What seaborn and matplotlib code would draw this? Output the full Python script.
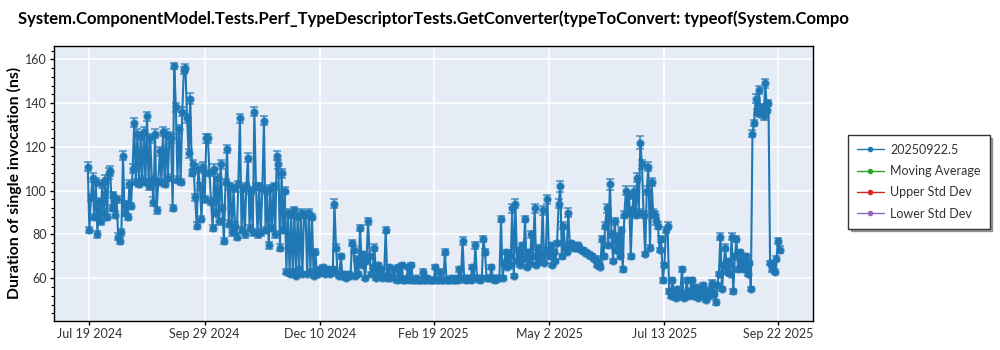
import matplotlib
matplotlib.use("Agg")
import matplotlib.pyplot as plt
from matplotlib.ticker import AutoMinorLocator
import pandas as pd
import seaborn as sns

# ---- data: one benchmark result per day, mean duration (ns) and its std error ----
title = ("System.ComponentModel.Tests.Perf_TypeDescriptorTests.GetConverter"
         "(typeToConvert: typeof(System.Compo")
y_label = "Duration of single invocation (ns)"
series_label = "20250922.5"
extra_labels = ["Moving Average", "Upper Std Dev", "Lower Std Dev"]

jul24 = [111, 82, 97, 106, 88, 104, 80, 95, 86, 103, 90, 105, 88, 108]
jul24_err = [2, 1.5, 1.5, 2, 1.5, 2, 1.5, 1.5, 1.5, 2, 1.5, 2, 1.5, 2.5]

aug24 = [109, 92, 98, 89, 96, 79, 77, 81, 116, 90, 94, 88, 103, 93, 110, 131,
         104, 126, 103, 125, 105, 127, 104, 134, 102, 124, 105, 95, 126, 91, 104]
aug24_err = [2.5, 1.5, 1.5, 1.5, 1.5, 1.5, 1.5, 1.5, 2, 1.5, 1.5, 1.5, 2, 1.5, 2, 2,
             1.5, 2, 1.5, 2, 1.5, 2, 1.5, 2, 1.5, 2, 1.5, 2, 2, 1.5, 1.5]

sep24 = [118, 104, 127, 103, 126, 106, 125, 124, 92, 157, 138, 105, 128, 104, 136,
         155, 156, 133, 117, 142, 108, 112, 97, 84, 110, 102, 87, 111, 96, 124]
sep24_err = [2, 1.5, 2, 1.5, 2, 1.5, 2, 2, 1.5, 1.5, 2, 1.5, 2, 1.5, 2,
             1.5, 2, 2, 2, 2.5, 1.5, 2, 1.5, 1.5, 2, 1.5, 1.5, 2, 1.5, 2]

oct24 = [124, 108, 95, 83, 110, 90, 106, 86, 112, 92, 77, 104, 119, 85, 102, 81,
         101, 84, 79, 103, 133, 82, 101, 80, 102, 115, 83, 100, 81, 136, 102]
oct24_err = [2, 1.5, 1.5, 1.5, 2, 1.5, 1.5, 1.5, 2, 1.5, 1.5, 1.5, 2, 1.5, 1.5, 1.5,
             1.5, 1.5, 1.5, 1.5, 2, 1.5, 1.5, 1.5, 1.5, 2, 1.5, 1.5, 1.5, 2, 1.5]

nov24 = [80, 102, 81, 101, 132, 82, 100, 75, 101, 83, 102, 80, 116, 112, 74, 108,
         82, 100, 63, 90, 62, 89, 63, 91, 61, 88, 64, 90, 62, 89]
nov24_err = [1.5, 1.5, 1.5, 1.5, 2, 1.5, 1.5, 1.5, 1.5, 1.5, 1.5, 1.5, 2, 2, 1.5, 2,
             1.5, 1.5, 1, 1.5, 1, 1.5, 1, 1.5, 1, 1.5, 1, 1.5, 1, 1.5]

dec24 = [89, 62, 90, 63, 88, 61, 72, 63, 62, 64, 63, 65, 62, 63, 64, 62, 63, 64,
         94, 74, 62, 61, 70, 61, 62, 60, 61, 62, 61, 76, 73]
dec24_err = [1.5, 1, 1.5, 1, 1.5, 1, 1.5, 1, 1, 1, 1, 1, 1, 1, 1, 1, 1, 1,
             2, 1.5, 1, 1, 1, 1, 1, 1, 1, 1, 1, 1.5, 1.5]

jan25 = [61, 69, 62, 83, 66, 71, 60, 68, 86, 70, 62, 65, 74, 60, 66, 61, 64, 60,
         61, 82, 60, 65, 60, 61, 64, 60, 59, 65, 60, 66, 59]
jan25_err = [1, 1, 1, 1.5, 1, 1, 1, 1, 1.5, 1, 1, 1, 1.5, 1, 1, 1, 1, 1,
             1, 1.5, 1, 1, 1, 1, 1, 1, 1, 1, 1, 1, 1]

feb25 = [59, 60, 65, 59, 66, 59, 59, 60, 59, 59, 59, 63, 59, 59, 60, 59, 59, 59,
         59, 65, 59, 59, 63, 59, 59, 72, 59, 59]
feb25_err = [1, 1, 1, 1, 1, 1, 1, 1, 1, 1, 1, 1, 1, 1, 1, 1, 1, 1,
             1, 1, 1, 1, 1, 1, 1, 1.5, 1, 1]

mar25 = [59, 60, 59, 59, 60, 59, 64, 60, 77, 60, 59, 60, 60, 59, 65, 60, 75, 60,
         60, 59, 60, 78, 72, 60, 60, 60, 65, 60, 59, 60, 60]
mar25_err = [1, 1, 1, 1, 1, 1, 1, 1, 2, 1, 1, 1, 1, 1, 1, 1, 1.5, 1,
             1, 1, 1, 1.5, 1.5, 1, 1, 1, 1, 1, 1, 1, 1]

apr25 = [60, 87, 60, 67, 72, 65, 70, 66, 92, 61, 94, 68, 73, 66, 75, 69, 87, 65,
         72, 67, 80, 70, 92, 66, 74, 68, 71, 91, 67, 73]
apr25_err = [1, 1.5, 1, 1, 1, 1, 1, 1, 2, 1, 2, 1, 1, 1, 1, 1, 1.5, 1,
             1, 1, 1.5, 1, 2, 1, 1, 1, 1, 2, 1, 1]

may25 = [96, 70, 75, 66, 72, 68, 76, 94, 102, 70, 84, 74, 72, 90, 75, 76, 74, 75,
         74, 75, 74, 73, 73, 72, 72, 71, 71, 70, 70, 69, 69]
may25_err = [2, 1, 1, 1, 1, 1, 1, 2, 2.5, 1, 1.5, 1, 1, 2, 1, 1, 1, 1,
             1, 1, 1, 1, 1, 1, 1, 1, 1, 1, 1, 1, 1]

jun25 = [66, 67, 65, 78, 70, 84, 92, 75, 103, 80, 68, 86, 73, 79, 70, 82, 64, 89,
         100, 90, 98, 70, 91, 100, 89, 106, 90, 122, 112, 89]
jun25_err = [1, 1, 1, 1.5, 1, 1.5, 2, 1, 2.5, 1.5, 1, 1.5, 1, 1.5, 1, 1.5, 1, 1.5,
             2, 1.5, 2, 1, 1.5, 2, 1.5, 2, 1.5, 2.8, 2.2, 1.5]

jul25 = [71, 100, 111, 74, 104, 90, 89, 86, 84, 73, 78, 59, 66, 82, 84, 54, 52, 59,
         53, 51, 55, 52, 54, 64, 51, 53, 59, 52, 54, 59, 52]
jul25_err = [1, 2, 2, 1, 2, 1.5, 1.5, 1.5, 1.5, 1, 1.5, 1, 1, 1.5, 1.5, 1, 1, 1,
             1, 1, 1, 1, 1, 1, 1, 1, 1, 1, 1, 1, 1]

aug25 = [53, 56, 51, 55, 52, 57, 53, 50, 54, 52, 55, 58, 53, 49, 57, 62, 79, 55,
         66, 74, 63, 68, 62, 79, 54, 70, 78, 64, 72, 66, 69]
aug25_err = [1, 1, 1, 1, 1, 1, 1, 1, 1, 1, 1, 1, 1, 1, 1, 1, 1.5, 1,
             1, 1.5, 1, 1, 1, 1.5, 1, 1, 1.5, 1, 1, 1, 1]

sep25 = [64, 70, 62, 67, 55, 126, 131, 142, 136, 146, 135, 138, 134, 149, 137, 140,
         67, 64, 66, 63, 69, 77, 73]
sep25_err = [1, 1, 1, 1, 1, 1.5, 1.5, 2, 1.5, 2, 1.5, 1.5, 1.5, 2, 1.5, 1.5,
             1, 1, 1, 1, 1, 1.5, 1.5]

months = [
    ("2024-07-18", jul24, jul24_err), ("2024-08-01", aug24, aug24_err),
    ("2024-09-01", sep24, sep24_err), ("2024-10-01", oct24, oct24_err),
    ("2024-11-01", nov24, nov24_err), ("2024-12-01", dec24, dec24_err),
    ("2025-01-01", jan25, jan25_err), ("2025-02-01", feb25, feb25_err),
    ("2025-03-01", mar25, mar25_err), ("2025-04-01", apr25, apr25_err),
    ("2025-05-01", may25, may25_err), ("2025-06-01", jun25, jun25_err),
    ("2025-07-01", jul25, jul25_err), ("2025-08-01", aug25, aug25_err),
    ("2025-09-01", sep25, sep25_err),
]

tick_dates = ["2024-07-19", "2024-09-29", "2024-12-10", "2025-02-19",
              "2025-05-02", "2025-07-13", "2025-09-22"]
tick_labels = ["Jul 19 2024", "Sep 29 2024", "Dec 10 2024", "Feb 19 2025",
               "May 2 2025", "Jul 13 2025", "Sep 22 2025"]
y_ticks = [60, 80, 100, 120, 140, 160]

# ---- build the long table ----
frames = []
for start, vals, errs in months:
    frames.append(pd.DataFrame({
        "date": pd.date_range(start, periods=len(vals), freq="D"),
        "value": vals,
        "err": errs,
    }))
df = pd.concat(frames, ignore_index=True)

# ---- style ----
sns.set_theme(style="white")
plt.rcParams["font.family"] = ["Lato", "DejaVu Sans"]

BLUE = "#1f77b4"
extra_colors = ["#2ca02c", "#d62728", "#9467bd"]

fig = plt.figure(figsize=(10, 3.5), dpi=100)
ax = fig.add_axes([0.054, 0.0837, 0.759, 0.7849])
ax.set_facecolor("#E5ECF6")
ax.grid(True, color="white", linewidth=1.2)
ax.set_axisbelow(True)

ax.errorbar(df["date"], df["value"], yerr=df["err"], fmt="none",
            ecolor=BLUE, elinewidth=1.2, capsize=2.6, capthick=1.1,
            alpha=0.8, zorder=2)
sns.lineplot(data=df, x="date", y="value", ax=ax, color=BLUE,
             linewidth=1.5, marker="o", markersize=5, markeredgewidth=1.3,
             markeredgecolor=(0.12, 0.47, 0.71, 0.5),
             estimator=None, label=series_label, zorder=3)
for name, col in zip(extra_labels, extra_colors):
    ax.plot([], [], color=col, marker="o", markersize=4, linewidth=1.1,
            label=name)

# ---- axes ----
ax.set_xlim(pd.Timestamp("2024-06-26 22:00"), pd.Timestamp("2025-10-13 19:00"))
ax.set_ylim(40.6, 166.1)
ax.set_xticks(pd.to_datetime(tick_dates))
ax.set_xticklabels(tick_labels)
ax.set_yticks(y_ticks)
ax.yaxis.set_minor_locator(AutoMinorLocator(5))
ax.set_xlabel("")
ax.set_ylabel("")
for s in ax.spines.values():
    s.set_visible(True)
    s.set_color("black")
    s.set_linewidth(1.0)
ax.tick_params(axis="both", which="major", direction="out", length=3,
               width=1, color="black", labelsize=9, labelcolor="#333333",
               pad=2, bottom=True, left=True)
ax.tick_params(axis="y", which="minor", direction="out", length=2,
               width=0.8, color="black", left=True)

leg = ax.legend(loc="upper left", bbox_to_anchor=(1.046, 0.676),
                borderaxespad=0, frameon=True, fancybox=False, shadow=True,
                fontsize=9, handlelength=2.2, handletextpad=0.5,
                labelspacing=0.75, borderpad=0.7, edgecolor="#333333",
                facecolor="white", framealpha=1)
leg.get_frame().set_linewidth(1.0)
for t in leg.get_texts():
    t.set_color("#333333")
# thin, uniform legend handles
for h in leg.get_lines():
    h.set_linewidth(1.0)
    h.set_markersize(4)
    h.set_markeredgewidth(0)

fig.text(0.018, 1 - 19 / 350, title, fontsize=12, fontweight="bold",
         ha="left", va="center", color="black")
fig.text(0.014, 0.476, y_label, rotation=90, fontsize=11.3, fontweight="bold",
         ha="center", va="center", color="black")

fig.savefig("out.png", dpi=100, facecolor="white")
